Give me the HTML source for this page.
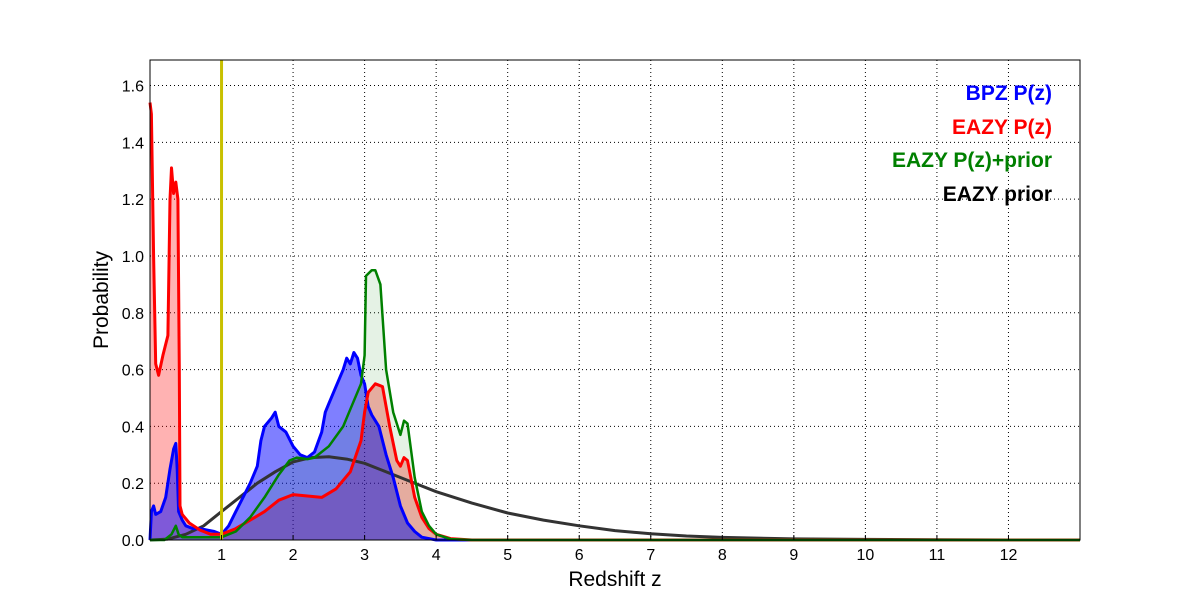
<!DOCTYPE html>
<html><head><meta charset="utf-8"><style>
body{margin:0;background:#fff;}
svg{display:block;font-family:"Liberation Sans","DejaVu Sans",sans-serif;}
</style></head><body>
<svg id="chart" width="1200" height="600">
<g id="grid"></g>
<g id="series"></g>
<rect x="150" y="60" width="930" height="480" fill="none" stroke="#000" stroke-width="1"/>
<g id="ticks"></g>
<text x="615" y="586" font-size="21" text-anchor="middle">Redshift z</text>
<text x="108" y="300" font-size="21" text-anchor="middle" transform="rotate(-90 108 300)">Probability</text>
<g font-size="21" font-weight="bold" text-anchor="end">
<text x="1052" y="100" fill="#0000ff">BPZ P(z)</text>
<text x="1052" y="134" fill="#ff0000">EAZY P(z)</text>
<text x="1052" y="167" fill="#008000">EAZY P(z)+prior</text>
<text x="1052" y="201" fill="#000">EAZY prior</text>
</g>
</svg>
<script>
const xTicks=[1,2,3,4,5,6,7,8,9,10,11,12];
const yTicks=[0,0.2,0.4,0.6,0.8,1.0,1.2,1.4,1.6];
const redZ=[0,0.02,0.05,0.08,0.12,0.18,0.25,0.28,0.3,0.33,0.36,0.39,0.41,0.42,0.45,0.55,0.7,0.85,1.0,1.2,1.4,1.6,1.8,2.0,2.2,2.4,2.6,2.8,2.95,3.0,3.05,3.15,3.25,3.35,3.45,3.5,3.55,3.6,3.7,3.8,3.9,4.0,4.2,4.5,13];
const redP=[1.54,1.5,1.0,0.62,0.58,0.65,0.72,1.2,1.31,1.22,1.26,1.2,0.6,0.12,0.09,0.06,0.035,0.02,0.02,0.04,0.07,0.1,0.14,0.16,0.155,0.15,0.18,0.24,0.35,0.45,0.52,0.55,0.54,0.4,0.28,0.26,0.29,0.28,0.15,0.08,0.04,0.02,0.005,0,0];
const blueZ=[0,0.02,0.05,0.08,0.15,0.22,0.28,0.33,0.36,0.38,0.4,0.45,0.5,0.6,0.7,0.8,0.9,1.0,1.1,1.2,1.3,1.4,1.5,1.55,1.6,1.7,1.75,1.8,1.9,2.0,2.1,2.2,2.3,2.4,2.45,2.5,2.6,2.7,2.75,2.8,2.85,2.9,2.95,3.0,3.05,3.1,3.2,3.3,3.4,3.5,3.6,3.7,3.8,4.0,13];
const blueP=[0,0.1,0.12,0.09,0.1,0.15,0.25,0.32,0.34,0.25,0.1,0.07,0.05,0.04,0.04,0.035,0.03,0.02,0.05,0.1,0.15,0.2,0.26,0.35,0.4,0.43,0.45,0.4,0.38,0.33,0.3,0.29,0.31,0.38,0.45,0.48,0.54,0.6,0.64,0.62,0.66,0.64,0.58,0.55,0.47,0.44,0.4,0.3,0.22,0.12,0.06,0.03,0.01,0,0];
const greenZ=[0,0.2,0.3,0.36,0.4,0.45,1.0,1.2,1.4,1.6,1.8,1.95,2.05,2.2,2.3,2.5,2.7,2.8,2.95,3.0,3.02,3.1,3.15,3.22,3.3,3.4,3.5,3.55,3.6,3.7,3.8,3.9,4.0,4.2,4.5,13];
const greenP=[0,0,0.02,0.05,0.02,0.01,0.01,0.03,0.08,0.15,0.23,0.28,0.29,0.285,0.29,0.33,0.4,0.46,0.55,0.65,0.93,0.95,0.95,0.9,0.6,0.45,0.37,0.42,0.41,0.22,0.1,0.05,0.02,0.003,0,0];
const priorZ=[0,0.25,0.5,0.75,1,1.25,1.5,1.75,2,2.25,2.5,2.75,3,3.25,3.5,3.75,4,4.5,5,5.5,6,6.5,7,7.5,8,9,10,11,12,13];
const priorP=[0,0.003,0.02,0.05,0.1,0.15,0.2,0.24,0.275,0.29,0.293,0.285,0.27,0.245,0.22,0.195,0.17,0.13,0.095,0.07,0.05,0.033,0.022,0.014,0.009,0.004,0.002,0.001,0,0];
const specZ=1.0;

const X0=150,X1=1080,Y0=540,Y1=60,ZMAX=13,PMAX=1.69;
const sx=z=>X0+z/ZMAX*(X1-X0);
const sy=p=>Y0-p/PMAX*(Y0-Y1);
const NS='http://www.w3.org/2000/svg';
function mk(tag,parent,attrs){const e=document.createElementNS(NS,tag);for(const k in attrs)e.setAttribute(k,attrs[k]);parent.appendChild(e);return e;}
const grid=document.getElementById('grid'),ticks=document.getElementById('ticks'),ser=document.getElementById('series');
xTicks.forEach(t=>{
 const l=mk('line',grid,{x1:sx(t),x2:sx(t),y1:Y1,y2:Y0,stroke:'#000','stroke-dasharray':'1,3','stroke-width':1});
 
 
 const tk=mk('line',ticks,{x1:sx(t),x2:sx(t),y1:Y0,y2:Y0-5,stroke:'#000'});
 
 
 const tx=mk('text',ticks,{x:sx(t),y:Y0+20,'font-size':16,'text-anchor':'middle'});
 tx.textContent=t;
 
 
});
yTicks.forEach(t=>{
 const l=mk('line',grid,{x1:X0,x2:X1,y1:sy(t),y2:sy(t),stroke:'#000','stroke-dasharray':'1,3','stroke-width':1});
 
 
 const tx=mk('text',ticks,{x:X0-6,y:sy(t)+6,'font-size':16,'text-anchor':'end'});
 tx.textContent=t.toFixed(1);
 
 
});
function pts(zs,ps){return zs.map((z,i)=>sx(z).toFixed(1)+','+sy(ps[i]).toFixed(1)).join(' ');}
function area(zs,ps,fill,name){
 const p=mk('polygon',ser,{points:sx(zs[0])+','+Y0+' '+pts(zs,ps)+' '+sx(zs[zs.length-1])+','+Y0,fill:fill});
 
 
}
function line(zs,ps,col,w,name){
 const p=mk('polyline',ser,{points:pts(zs,ps),fill:'none',stroke:col,'stroke-width':w,'stroke-linejoin':'round'});
 
 
}
area(redZ,redP,'rgba(255,0,0,0.3)','eazy-fill');
area(blueZ,blueP,'rgba(0,0,255,0.5)','bpz-fill');
area(greenZ,greenP,'rgba(0,128,0,0.1)','eazy-prior-combined-fill');
line(priorZ,priorP,'#333',3,'eazy-prior-line');
line(blueZ,blueP,'#0000ff',3,'bpz-line');
line(redZ,redP,'#ff0000',3,'eazy-line');
line(greenZ,greenP,'#008000',2.5,'eazy-prior-combined-line');
const v=mk('line',ser,{x1:sx(specZ),x2:sx(specZ),y1:Y1,y2:Y0,stroke:'#c8c000','stroke-width':3});


</script>
</body></html>
